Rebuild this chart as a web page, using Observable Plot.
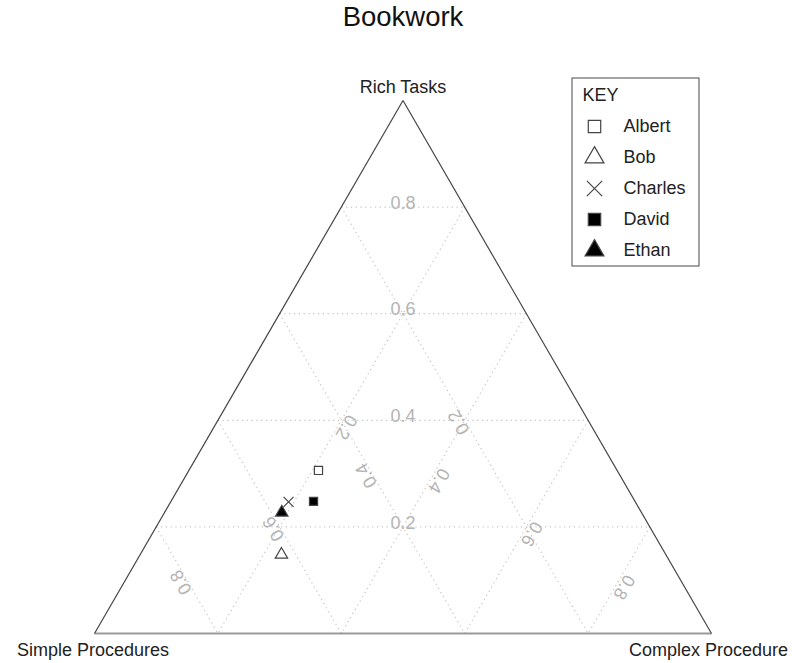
<!DOCTYPE html>
<html><head><meta charset="utf-8">
<script src="https://cdn.jsdelivr.net/npm/d3@7"></script>
<script src="https://cdn.jsdelivr.net/npm/@observablehq/plot@0.6"></script>
<style>
body{margin:0;background:#fff;}
#wrap{position:relative;width:792px;height:663px;font-family:"Liberation Sans",Arial,sans-serif;}
#legend{position:absolute;left:571px;top:77px;}
svg{overflow:visible;}
</style></head><body><div id="wrap"><div id="main"></div><div id="legend"></div></div>
<script>
const title = "Bookwork";
const students = ["Albert", "Bob", "Charles", "David", "Ethan"];
const simpleProc = [0.484, 0.623, 0.562, 0.521, 0.583];
const complexProc = [0.210, 0.229, 0.191, 0.231, 0.190];
const richTasks = [0.306, 0.148, 0.247, 0.248, 0.227];
const gridLevels = [0.2, 0.4, 0.6, 0.8];
const gridLabels = ["0.2", "0.4", "0.6", "0.8"];
const cornerLabels = ["Rich Tasks", "Simple Procedures", "Complex Procedure"];
const legendTitle = "KEY";
const symbolRange = ["square", "triangle", "times", "square", "triangle"];
const fillRange = ["none", "none", "none", "#000", "#000"];

// barycentric (simple, complex, rich) -> cartesian: x = complex + rich/2, y = rich
const tern = (s, c, r) => { const t = s + c + r; return {x: (c + r / 2) / t, y: r / t}; };

const pts = students.map((name, i) => ({name, ...tern(simpleProc[i], complexProc[i], richTasks[i])}));

const vRich = tern(0, 0, 1), vSimple = tern(1, 0, 0), vComplex = tern(0, 1, 0);

const seg = (a, b) => ({x1: a.x, y1: a.y, x2: b.x, y2: b.y});
const grid = [
  ...gridLevels.map(t => seg(tern(1 - t, 0, t), tern(0, 1 - t, t))),
  ...gridLevels.map(s => seg(tern(s, 0, 1 - s), tern(s, 1 - s, 0))),
  ...gridLevels.map(c => seg(tern(0, c, 1 - c), tern(1 - c, c, 0)))
];
const labR = gridLevels.map((t, i) => ({...tern((1 - t) / 2, (1 - t) / 2, t), label: gridLabels[i]}));
const labS = gridLevels.map((s, i) => ({...tern(s, (1 - s) / 2, (1 - s) / 2), label: gridLabels[i]}));
const labC = gridLevels.map((c, i) => ({...tern((1 - c) / 2, c, (1 - c) / 2), label: gridLabels[i]}));

const font = "'Liberation Sans', Arial, sans-serif";
const gridGray = "#b4b4b4";

const chart = Plot.plot({
  width: 792, height: 663,
  marginLeft: 94, marginRight: 81, marginTop: 100, marginBottom: 30,
  x: {domain: [0, 1], axis: null},
  y: {domain: [0, 1], axis: null},
  symbol: {domain: students, range: symbolRange},
  color: {domain: students, range: fillRange},
  style: {fontFamily: font, fontSize: "18px", background: "white", overflow: "visible"},
  marks: [
    Plot.link(grid, {x1: "x1", y1: "y1", x2: "x2", y2: "y2", stroke: "#c4c4c4", strokeWidth: 1.2, strokeDasharray: "1.2,3.6"}),
    Plot.text(labR, {x: "x", y: "y", text: "label", fill: gridGray, fontSize: 18, dy: -4}),
    Plot.text(labS, {x: "x", y: "y", text: "label", fill: gridGray, fontSize: 18, rotate: 240, dx: -6, dy: 2}),
    Plot.text(labC, {x: "x", y: "y", text: "label", fill: gridGray, fontSize: 18, rotate: 120, dx: 5, dy: 7}),
    Plot.link([seg(vSimple, vComplex)], {x1: "x1", y1: "y1", x2: "x2", y2: "y2", stroke: "#9a9a9a", strokeWidth: 2}),
    Plot.link([seg(vSimple, vRich), seg(vRich, vComplex)], {x1: "x1", y1: "y1", x2: "x2", y2: "y2", stroke: "#444", strokeWidth: 1.2}),
    Plot.dot(pts, {x: "x", y: "y", symbol: "name", fill: "name", stroke: "#444", strokeWidth: 1.2, r: 4.6}),
    Plot.text([{...vRich, label: cornerLabels[0]}], {x: "x", y: "y", text: "label", fill: "#222", fontSize: 18, dy: -13}),
    Plot.text([{...vSimple, label: cornerLabels[1]}], {x: "x", y: "y", text: "label", fill: "#222", fontSize: 18, dx: -1.5, dy: 16.5}),
    Plot.text([{...vComplex, label: cornerLabels[2]}], {x: "x", y: "y", text: "label", fill: "#222", fontSize: 18, dx: -3, dy: 16.5}),
    Plot.text([{...vRich, label: title}], {x: "x", y: "y", text: "label", fill: "#111", fontSize: 27.5, dy: -83})
  ]
});
document.getElementById("main").appendChild(chart);

const legend = Plot.plot({
  width: 128, height: 189, margin: 0,
  y: {type: "point", domain: students, range: [49, 173], padding: 0, axis: null},
  symbol: {domain: students, range: symbolRange},
  color: {domain: students, range: fillRange},
  style: {fontFamily: font, fontSize: "18px", background: "white", overflow: "visible"},
  marks: [
    Plot.frame({stroke: "#666", strokeWidth: 1.2, inset: 0.5}),
    Plot.text([legendTitle], {text: d => d, frameAnchor: "top-left", dx: 11, dy: 18, lineAnchor: "middle", textAnchor: "start", fill: "#222", fontSize: 18}),
    Plot.dot(students, {y: d => d, symbol: d => d, fill: d => d, stroke: "#444", strokeWidth: 1.2, frameAnchor: "left", dx: 23, r: 7}),
    Plot.text(students, {y: d => d, text: d => d, frameAnchor: "left", dx: 52, textAnchor: "start", fill: "#222", fontSize: 18})
  ]
});
document.getElementById("legend").appendChild(legend);
</script></body></html>
